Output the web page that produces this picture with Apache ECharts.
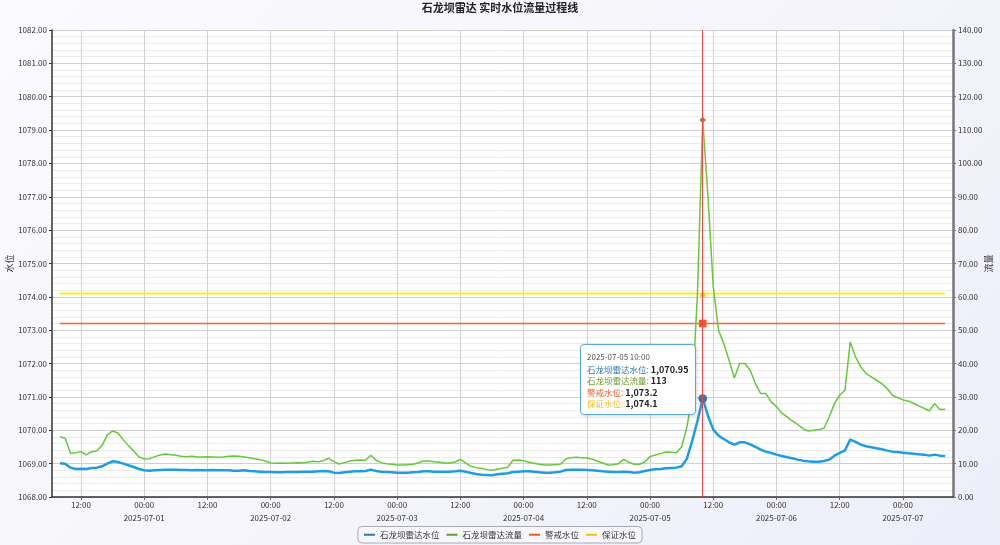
<!DOCTYPE html>
<html>
<head>
<meta charset="utf-8">
<script src="https://cdn.jsdelivr.net/npm/echarts@6/dist/echarts.min.js"></script>
<style>
html,body{margin:0;padding:0;width:1000px;height:545px;overflow:hidden;
background:linear-gradient(135deg,#fbfbfd 0%,#f5f5fb 50%,#eeeefa 100%);}
#c{width:1000px;height:545px;}
</style>
</head>
<body>
<div id="c"></div>
<script>
// ---- data (hourly, from 2025-06-30 08:00 to 2025-07-07 08:00) ----
const titleText = '石龙坝雷达 实时水位流量过程线';
const seriesNames = ['石龙坝雷达水位', '石龙坝雷达流量', '警戒水位', '保证水位'];
const startTime = '2025-06-30 08:00';
const warnLevel = 1073.2;
const guaranteeLevel = 1074.1;
const tipIndex = 122; // 2025-07-05 10:00
const xTickLabels = [
  '2025-06-30 12:00', '2025-07-01 00:00', '2025-07-01 12:00', '2025-07-02 00:00',
  '2025-07-02 12:00', '2025-07-03 00:00', '2025-07-03 12:00', '2025-07-04 00:00',
  '2025-07-04 12:00', '2025-07-05 00:00', '2025-07-05 12:00', '2025-07-06 00:00',
  '2025-07-06 12:00', '2025-07-07 00:00'
];

const waterLevel = [
1069.01,1069.00,1068.88,1068.84,1068.85,1068.84,1068.87,1068.88,1068.92,1069.00,1069.07,1069.05,1069.00,1068.95,1068.90,1068.84,
1068.80,1068.79,1068.80,1068.81,1068.82,1068.82,1068.82,1068.81,1068.81,1068.80,1068.81,1068.80,1068.80,1068.81,1068.80,1068.80,1068.80,1068.79,1068.79,1068.80,1068.78,1068.77,1068.76,1068.75,
1068.75,1068.74,1068.74,1068.75,1068.75,1068.75,1068.76,1068.76,1068.76,1068.77,1068.78,1068.77,1068.73,1068.72,1068.74,1068.76,1068.77,1068.77,1068.78,1068.82,1068.78,1068.76,1068.75,1068.74,
1068.73,1068.73,1068.73,1068.74,1068.75,1068.77,1068.77,1068.76,1068.76,1068.76,1068.76,1068.77,1068.79,1068.76,1068.72,1068.69,1068.67,1068.66,1068.65,1068.68,1068.70,1068.71,1068.75,1068.76,
1068.77,1068.77,1068.76,1068.74,1068.73,1068.73,1068.74,1068.76,1068.81,1068.82,1068.82,1068.82,1068.81,1068.80,1068.79,1068.77,1068.76,1068.75,1068.75,1068.76,1068.75,1068.73,1068.74,1068.78,
1068.81,1068.83,1068.84,1068.86,1068.87,1068.88,1068.92,1069.15,1069.68,1070.28,1070.95,1070.43,1070.02,1069.84,1069.74,1069.64,1069.57,1069.64,1069.64,1069.58,1069.50,1069.42,1069.36,1069.32,
1069.27,1069.23,1069.19,1069.16,1069.12,1069.09,1069.07,1069.06,1069.06,1069.08,1069.12,1069.24,1069.32,1069.40,1069.72,1069.65,1069.57,1069.52,1069.49,1069.46,1069.43,1069.39,1069.36,1069.35,
1069.33,1069.31,1069.30,1069.28,1069.27,1069.24,1069.27,1069.24,1069.23
];
const flow = [
18.1,17.6,13.1,13.3,13.6,12.6,13.6,13.8,15.5,18.6,19.8,19.2,17.2,15.4,13.8,12.0,
11.4,11.5,12.1,12.6,12.9,12.7,12.5,12.2,12.1,12.2,12.0,12.0,12.1,12.0,11.9,12.0,12.2,12.3,12.2,12.0,11.8,11.5,11.2,10.8,
10.2,10.1,10.2,10.1,10.2,10.3,10.2,10.4,10.7,10.6,10.9,11.6,10.6,9.9,10.3,10.8,11.0,11.1,11.0,12.5,11.0,10.3,10.0,9.8,
9.6,9.6,9.7,9.8,10.2,10.8,10.8,10.6,10.4,10.2,10.2,10.5,11.3,10.2,9.2,8.8,8.6,8.2,8.0,8.3,8.6,8.9,11.0,11.1,
10.9,10.4,10.1,9.8,9.6,9.6,9.7,9.8,11.4,11.8,11.9,11.8,11.7,11.4,10.8,10.2,9.6,9.7,10.0,11.3,10.4,9.8,9.8,10.5,
12.1,12.6,13.0,13.5,13.4,13.3,15.0,21.0,30.0,61.0,113,90,63,50,46,41,35.7,40,40,38,34,31,31,28.5,
27.1,25.2,24.0,22.8,21.8,20.5,19.8,20.0,20.2,20.6,24.0,28.0,30.5,32.0,46.5,42.0,39.0,37.0,36.0,35.0,34.0,32.5,30.5,29.8,
29.1,28.8,28.1,27.3,26.6,25.8,28.0,26.2,26.3
];

const H = 3600 * 1000;
const parseT = s => new Date(s.replace(' ', 'T') + ':00').getTime();
const t0 = parseT(startTime);
const times = waterLevel.map((_, i) => t0 + i * H);
const tickTimes = xTickLabels.map(parseT);
const pair = (arr) => arr.map((v, i) => [times[i], v]);
const constLine = (v) => times.map(t => [t, v]);

const colors = ['#1b8fcf', '#5cb736', '#f05a28', '#e3da1c'];
const pad2 = n => (n < 10 ? '0' : '') + n;
const fmtTime = t => { const d = new Date(t); return d.getFullYear() + '-' + pad2(d.getMonth() + 1) + '-' + pad2(d.getDate()) + ' ' + pad2(d.getHours()) + ':' + pad2(d.getMinutes()); };
const fmtVal = v => Number(v).toLocaleString('en-US', { maximumFractionDigits: 2 });

const chart = echarts.init(document.getElementById('c'));
const FONT = '"Noto Sans CJK SC", "Noto Sans", sans-serif';
const FONT_CSS = FONT.replace(/"/g, "'");
chart.setOption({
  animation: false,
  backgroundColor: 'transparent',
  color: colors,
  textStyle: { fontFamily: FONT },
  title: {
    text: titleText, left: 'center', top: -3,
    textStyle: { fontSize: 11, fontWeight: 'bold', color: '#222', fontFamily: FONT }
  },
  legend: {
    bottom: 2, left: 'center',
    data: seriesNames.map(n => ({ name: n, icon: 'rect' })),
    itemWidth: 11, itemHeight: 2, itemGap: 7,
    borderColor: '#a8a8b8', borderWidth: 1, borderRadius: 4,
    padding: [4, 6, 4, 6],
    backgroundColor: 'rgba(255,255,255,0.4)',
    textStyle: { fontSize: 8.5, color: '#333', fontFamily: FONT }
  },
  grid: {
    left: 52, right: 47, top: 30, bottom: 48,
    containLabel: false, outerBoundsMode: 'none',
    show: true, backgroundColor: '#ffffff', borderWidth: 0
  },
  tooltip: {
    trigger: 'axis',
    triggerOn: 'none',
    alwaysShowContent: true,
    position: [580, 344],
    backgroundColor: 'rgba(255,255,255,0.97)',
    borderColor: '#5aa7d8', borderWidth: 1, borderRadius: 4,
    padding: [6, 6, 4, 6],
    extraCssText: 'box-shadow:1px 1px 3px rgba(0,0,0,0.15);line-height:11.6px;',
    axisPointer: { type: 'line', label: { show: false }, lineStyle: { color: '#f04848', width: 1, type: 'solid' } },
    formatter: (params) => {
      let s = '<div style="font-size:8px;color:#555;margin-bottom:1px;font-family:' + FONT_CSS + '">' + fmtTime(params[0].value[0]) + '</div>';
      params.forEach(p => {
        s += '<div style="font-size:8.5px;white-space:nowrap;font-family:' + FONT_CSS + '"><span style="color:' + p.color + '">' + p.seriesName + ':</span> <b style="color:#222;font-size:9px">' + fmtVal(p.value[1]) + '</b></div>';
      });
      return s;
    }
  },
  xAxis: {
    type: 'value',
    scale: true,
    min: t0 - 1.5 * H,
    max: times[times.length - 1] + 1.5 * H,
    axisLine: { lineStyle: { color: '#333', width: 1.5 } },
    axisTick: { show: true, length: 3, lineStyle: { color: '#666' }, customValues: tickTimes },
    axisLabel: {
      customValues: tickTimes,
      fontSize: 8, color: '#333', lineHeight: 13, margin: 1, hideOverlap: false,
      formatter: (val) => {
        const d = new Date(val);
        if (d.getHours() === 0 && d.getMinutes() === 0) {
          return '00:00\n' + d.getFullYear() + '-' + pad2(d.getMonth() + 1) + '-' + pad2(d.getDate());
        }
        return pad2(d.getHours()) + ':' + pad2(d.getMinutes());
      }
    },
    splitLine: { show: true, lineStyle: { color: '#d2d2d2', width: 1 } }
  },
  yAxis: [
    {
      type: 'value', name: '水位', nameLocation: 'middle', nameGap: 38, nameMoveOverlap: false,
      nameTextStyle: { fontSize: 9, color: '#333' },
      min: 1068, max: 1082, interval: 1,
      axisLine: { show: true, lineStyle: { color: '#333', width: 1.5 } },
      axisTick: { show: true, length: 3, lineStyle: { color: '#333' } },
      axisLabel: { fontSize: 8, color: '#333', formatter: v => v.toFixed(2), margin: 5 },
      splitLine: { show: true, lineStyle: { color: '#cfcfcf' } },
      minorTick: { show: false, splitNumber: 5 },
      minorSplitLine: { show: true, lineStyle: { color: '#ebebeb' } }
    },
    {
      type: 'value', name: '流量', nameLocation: 'middle', nameGap: 31, nameMoveOverlap: false,
      nameTextStyle: { fontSize: 9, color: '#333' },
      min: 0, max: 140, interval: 10,
      axisLine: { show: true, lineStyle: { color: '#777', width: 2.5 } },
      axisTick: { show: true, length: 3, lineStyle: { color: '#777' } },
      axisLabel: { fontSize: 8, color: '#333', formatter: v => v.toFixed(2), margin: 5 },
      splitLine: { show: false }
    }
  ],
  series: [
    { name: seriesNames[0], type: 'line', yAxisIndex: 0, data: pair(waterLevel),
      showSymbol: false, symbol: 'circle', symbolSize: 8, z: 4,
      lineStyle: { width: 2.5, color: colors[0] }, itemStyle: { color: '#2a78b6' } },
    { name: seriesNames[1], type: 'line', yAxisIndex: 1, data: pair(flow),
      showSymbol: false, symbol: 'diamond', symbolSize: 6, z: 3,
      lineStyle: { width: 1.5, color: colors[1] }, itemStyle: { color: '#6a9a2a' } },
    { name: seriesNames[2], type: 'line', yAxisIndex: 0, data: constLine(warnLevel),
      showSymbol: false, symbol: 'rect', symbolSize: 7, z: 2,
      lineStyle: { width: 1.5, color: colors[2] }, itemStyle: { color: colors[2] } },
    { name: seriesNames[3], type: 'line', yAxisIndex: 0, data: constLine(guaranteeLevel),
      showSymbol: false, symbol: 'triangle', symbolSize: 6, z: 2,
      lineStyle: { width: 2, color: colors[3] }, itemStyle: { color: '#f0c020' } }
  ]
});
chart.dispatchAction({ type: 'showTip', seriesIndex: 0, dataIndex: tipIndex });
</script>
</body>
</html>
